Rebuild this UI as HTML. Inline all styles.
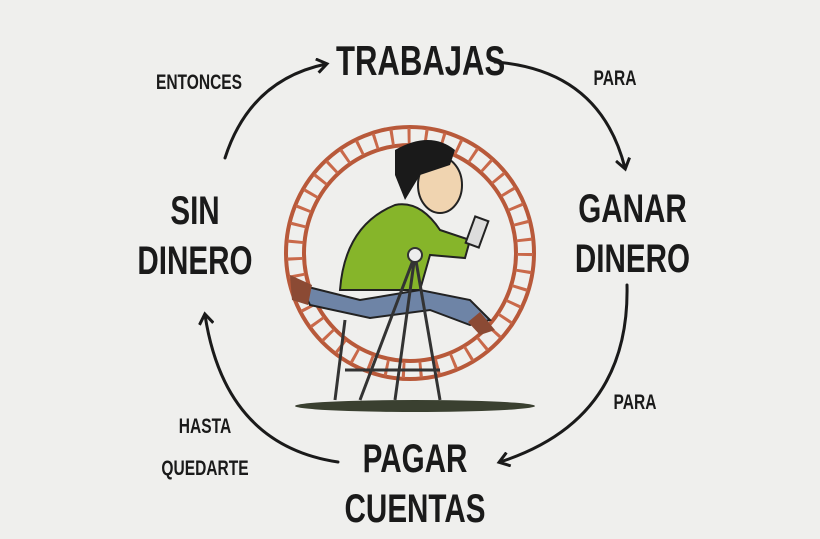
<!DOCTYPE html>
<html><head><meta charset="utf-8"><style>
html,body{margin:0;padding:0}
body{width:820px;height:539px;background:#efefed;position:relative;overflow:hidden;font-family:"Liberation Sans",sans-serif;font-weight:bold;color:#1a1a1a}
.t{position:absolute;text-align:center;line-height:1;transform:scaleX(0.74);transform-origin:center}
</style></head><body>
<svg width="820" height="539" style="position:absolute;left:0;top:0">
<defs><marker id="a" markerWidth="16" markerHeight="16" refX="10" refY="8" orient="auto" markerUnits="userSpaceOnUse"><path d="M1,1 L11,8 L1,15" fill="none" stroke="#1a1a1a" stroke-width="3"/></marker></defs>
<g fill="none" stroke="#1a1a1a" stroke-width="3" stroke-linecap="round">
<path d="M225,158 Q250,80 326,64" marker-end="url(#a)"/>
<path d="M495,62 Q600,70 625,168" marker-end="url(#a)"/>
<path d="M627,285 Q630,420 500,462" marker-end="url(#a)"/>
<path d="M338,462 Q225,445 205,315" marker-end="url(#a)"/>
</g>
<!-- ground -->
<ellipse cx="415" cy="406" rx="120" ry="6" fill="#3a4030"/>
<!-- wheel -->
<ellipse cx="410" cy="253" rx="124" ry="126" fill="none" stroke="#b8593a" stroke-width="4"/>
<ellipse cx="410" cy="253" rx="106" ry="108" fill="none" stroke="#b8593a" stroke-width="4"/>
<ellipse cx="410" cy="253" rx="115" ry="117" fill="none" stroke="#c9694a" stroke-width="16" stroke-dasharray="3 14"/>
<!-- legs of person -->
<path d="M300,285 L360,300 L420,290 L470,300 L490,320 L470,325 L430,310 L370,318 L310,305Z" fill="#6e84a6" stroke="#222" stroke-width="2"/>
<path d="M290,275 L312,285 L308,305 L292,300Z" fill="#8b4a34"/>
<path d="M480,312 L495,330 L480,335 L468,322Z" fill="#8b4a34"/>
<!-- body -->
<path d="M340,290 Q345,225 395,205 Q420,200 440,230 L470,240 L465,258 L430,255 L420,290Z" fill="#86b52a" stroke="#222" stroke-width="2"/>
<!-- head -->
<ellipse cx="440" cy="185" rx="22" ry="28" fill="#f0d4b0" stroke="#222" stroke-width="2"/>
<path d="M395,150 Q430,130 455,150 L450,165 L420,175 L405,200 L395,175Z" fill="#1a1a1a"/>
<rect x="470" y="218" width="14" height="28" fill="#ddd" stroke="#222" stroke-width="2" transform="rotate(20 477 232)"/>
<!-- stand -->
<g stroke="#333" stroke-width="3" fill="none">
<path d="M415,255 L360,400 M415,255 L440,400 M415,255 L395,400 M345,320 L335,400 M345,370 L440,370"/>
</g>
<circle cx="415" cy="255" r="7" fill="#eee" stroke="#333" stroke-width="2"/>
</svg>
<div class="t" style="left:310px;top:40px;width:200px;font-size:42px">TRABAJAS</div>
<div class="t" style="left:130px;top:72px;width:138px;font-size:21px">ENTONCES</div>
<div class="t" style="left:580px;top:68px;width:70px;font-size:21px">PARA</div>
<div class="t" style="left:110px;top:186px;width:170px;font-size:40px;line-height:50px">SIN<br>DINERO</div>
<div class="t" style="left:545px;top:184px;width:175px;font-size:40px;line-height:50px">GANAR<br>DINERO</div>
<div class="t" style="left:600px;top:392px;width:70px;font-size:21px">PARA</div>
<div class="t" style="left:130px;top:406px;width:150px;font-size:21px;line-height:42px">HASTA<br>QUEDARTE</div>
<div class="t" style="left:315px;top:434px;width:200px;font-size:40px;line-height:50px">PAGAR<br>CUENTAS</div>
</body></html>
